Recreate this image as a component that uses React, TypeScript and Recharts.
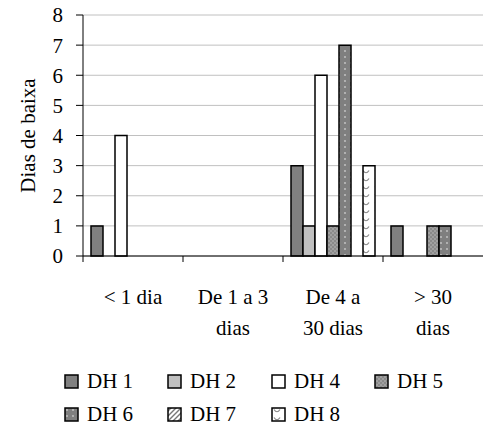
import React from "react";
import { BarChart, Bar, XAxis, YAxis, CartesianGrid } from "recharts";

const categories = ["< 1 dia", "De 1 a 3 dias", "De 4 a 30 dias", "> 30 dias"];
const tickLines = [["< 1 dia"], ["De 1 a 3", "dias"], ["De 4 a", "30 dias"], ["> 30", "dias"]];
const seriesNames = ["DH 1", "DH 2", "DH 4", "DH 5", "DH 6", "DH 7", "DH 8"];
const dh1 = [1, 0, 3, 1];
const dh2 = [0, 0, 1, 0];
const dh4 = [4, 0, 6, 0];
const dh5 = [0, 0, 1, 1];
const dh6 = [0, 0, 7, 1];
const dh7 = [0, 0, 0, 0];
const dh8 = [0, 0, 3, 0];
const yTicks = [0, 1, 2, 3, 4, 5, 6, 7, 8];

const seriesValues = [dh1, dh2, dh4, dh5, dh6, dh7, dh8];
const FILLS = ["#808080", "#c0c0c0", "#ffffff", "url(#pat5)", "url(#pat6)", "url(#pat7)", "url(#pat8)"];

const data = categories.map((cat, i) => {
  const row: Record<string, string | number> = { cat };
  seriesNames.forEach((name, s) => {
    row[name] = seriesValues[s][i];
  });
  return row;
});

const FONT = "Liberation Serif, Tinos, Times New Roman, DejaVu Serif, serif";
const FS = 21;
const BAND = 100;

function XTick(props: any) {
  const { x, y, index } = props;
  const lines = tickLines[index] || [];
  return (
    <g>
      <line x1={x - BAND / 2} x2={x - BAND / 2} y1={y - 8} y2={y - 2} stroke="#000" strokeWidth={1} />
      {lines.map((t, i) => (
        <text key={i} x={x} y={y + 40 + i * 31} textAnchor="middle" fontSize={FS} fontFamily={FONT} fill="#000">
          {t}
        </text>
      ))}
    </g>
  );
}

function Legend() {
  const lefts = [64, 167, 271, 374];
  return (
    <div style={{ position: "absolute", left: 0, top: 0, width: 483, height: 430, pointerEvents: "none" }}>
      {seriesNames.map((name, i) => {
        const row = Math.floor(i / 4);
        const col = i % 4;
        return (
          <div
            key={name}
            style={{
              position: "absolute",
              left: lefts[col],
              top: 369 + row * 33,
              display: "flex",
              alignItems: "center",
              fontFamily: FONT,
              fontSize: FS,
              lineHeight: "24px",
              color: "#000",
            }}
          >
            <svg width={15} height={15} style={{ marginRight: 8 }}>
              <rect x={1} y={1} width={13} height={13} fill={FILLS[i]} stroke="#000" strokeWidth={1.5} />
            </svg>
            {name}
          </div>
        );
      })}
    </div>
  );
}

export default function App() {
  return (
    <div style={{ position: "absolute", left: 0, top: 0, width: 483, height: 430, background: "#fff" }}>
      <BarChart
        width={483}
        height={350}
        data={data}
        margin={{ top: 15, right: 0, bottom: 0, left: 0 }}
        barSize={12}
        barGap={0}
      >
        <defs>
          <pattern id="pat5" width="4" height="4" patternUnits="userSpaceOnUse">
            <rect width="4" height="4" fill="#8a8a8a" />
            <rect x="0" y="0" width="2" height="2" fill="#a0a0a0" />
            <rect x="2" y="2" width="2" height="2" fill="#a0a0a0" />
          </pattern>
          <pattern id="pat6" width="6" height="6" patternUnits="userSpaceOnUse">
            <rect width="6" height="6" fill="#7f7f7f" />
            <circle cx="3" cy="3" r="0.9" fill="#c8c8c8" />
          </pattern>
          <pattern id="pat7" width="5" height="5" patternUnits="userSpaceOnUse">
            <rect width="5" height="5" fill="#ffffff" />
            <path d="M-1,6 L6,-1 M-1,1 L1,-1 M4,6 L6,4" stroke="#777" strokeWidth="1.4" />
          </pattern>
          <pattern id="pat8" width="12" height="8" patternUnits="userSpaceOnUse">
            <rect width="12" height="8" fill="#ffffff" />
            <path d="M3,2.5 Q6,7 9,2.5" stroke="#888" strokeWidth="1.2" fill="none" />
          </pattern>
        </defs>
        <CartesianGrid vertical={false} stroke="#c0c0c0" strokeWidth={1} />
        <XAxis
          dataKey="cat"
          height={94}
          tickLine={false}
          axisLine={{ stroke: "#000", strokeWidth: 1 }}
          tick={<XTick />}
          interval={0}
        />
        <YAxis
          width={83}
          domain={[0, 8]}
          ticks={yTicks}
          interval={0}
          tickSize={7}
          tickMargin={13}
          axisLine={{ stroke: "#000", strokeWidth: 1 }}
          tickLine={{ stroke: "#000" }}
          tick={{ fill: "#000", fontSize: FS, fontFamily: FONT }}
          label={{
            value: "Dias de baixa",
            angle: -90,
            position: "insideLeft",
            offset: 28,
            style: { textAnchor: "middle", fontSize: FS, fontFamily: FONT, fill: "#000" },
          }}
        />
        {seriesNames.map((name, i) => (
          <Bar key={name} dataKey={name} fill={FILLS[i]} stroke="#000" strokeWidth={1.5} isAnimationActive={false} />
        ))}
      </BarChart>
      <Legend />
    </div>
  );
}
